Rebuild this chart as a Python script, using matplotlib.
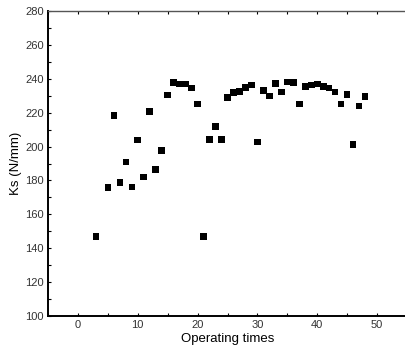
import matplotlib
matplotlib.use("Agg")
import matplotlib.pyplot as plt
from matplotlib.ticker import MultipleLocator

plt.rcParams["font.family"] = ["Liberation Sans", "DejaVu Sans"]

# operating times and Ks values
times = [3, 5, 6, 7, 8, 9, 10, 11, 12, 13, 14, 15, 16, 17, 18, 19, 20,
         21, 22, 23, 24, 25, 26, 27, 28, 29, 30, 31, 32, 33, 34, 35, 36,
         37, 38, 39, 40, 41, 42, 43, 44, 45, 46, 47, 48]
ks = [146.8, 175.7, 218.2, 178.7, 190.9, 176.1, 203.9, 182.0, 220.6, 186.6,
      197.6, 230.5, 237.7, 237.0, 237.0, 234.6, 225.0, 146.8, 204.3, 211.7,
      204.3, 228.9, 231.8, 232.4, 234.8, 236.4, 202.7, 233.0, 229.9, 237.1,
      232.2, 238.1, 237.7, 225.1, 235.6, 236.2, 236.8, 235.4, 234.6, 232.1,
      225.1, 230.6, 201.2, 224.0, 229.6]

fig = plt.figure(figsize=(4.05, 3.53), dpi=100)
ax = fig.add_axes([0.1185, 0.1048, 0.8865, 0.864])

ax.scatter(times, ks, marker="s", s=22, c="black", edgecolors="none", zorder=3)

ax.set_xlim(-5, 55)
ax.set_ylim(100, 280)
ax.xaxis.set_major_locator(MultipleLocator(10))
ax.xaxis.set_minor_locator(MultipleLocator(5))
ax.yaxis.set_major_locator(MultipleLocator(20))
ax.yaxis.set_minor_locator(MultipleLocator(10))

ax.tick_params(which="both", direction="in", length=2, width=0.8,
               top=True, right=False, labelsize=8, labelcolor="#333333",
               pad=3)

for side in ("left", "bottom"):
    ax.spines[side].set_linewidth(1.4)
    ax.spines[side].set_color("black")
ax.spines["top"].set_linewidth(1.0)
ax.spines["top"].set_color("#555555")
ax.spines["right"].set_visible(False)

ax.set_xlabel("Operating times", fontsize=9.5, labelpad=2)
ax.set_ylabel("Ks (N/mm)", fontsize=9.5, labelpad=2)

fig.savefig("out.png", dpi=100)
